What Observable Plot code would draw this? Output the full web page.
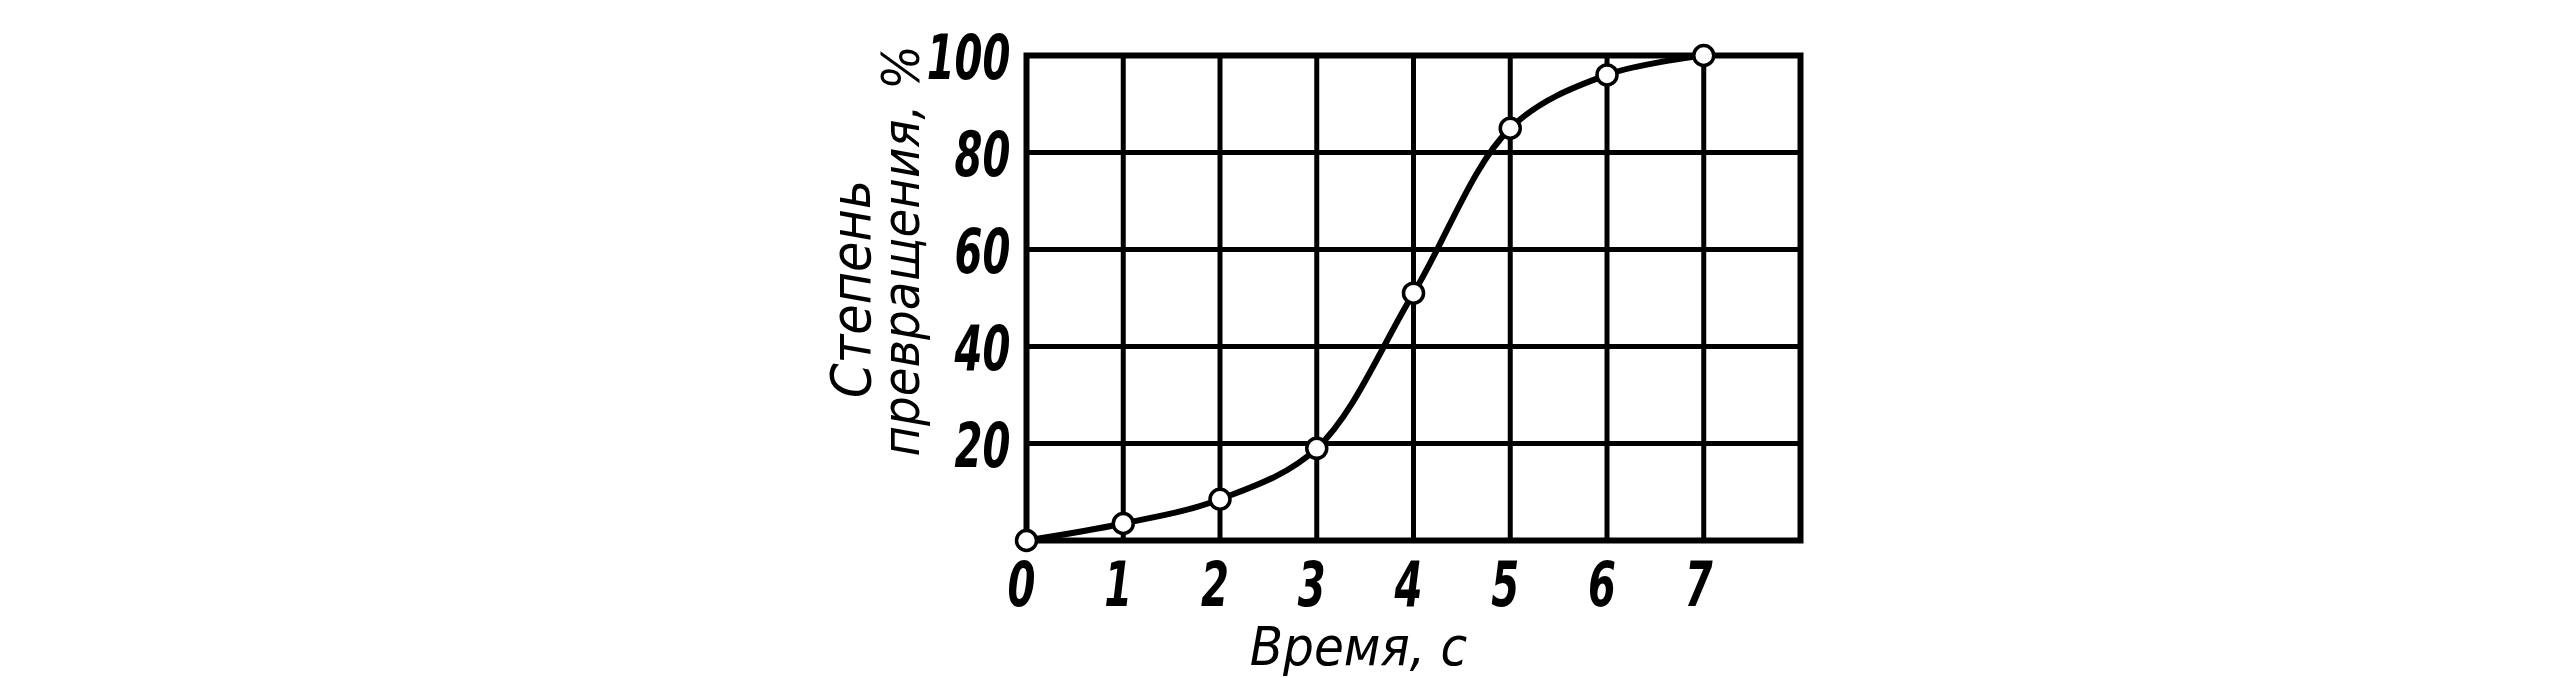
<!DOCTYPE html>
<html>
<head>
<meta charset="utf-8">
<script src="https://cdn.jsdelivr.net/npm/d3@7"></script>
<script src="https://cdn.jsdelivr.net/npm/@observablehq/plot@0.6"></script>
<style>
  html, body { margin: 0; padding: 0; background: #ffffff; }
  #chart svg { display: block; font-stretch: condensed; }
</style>
</head>
<body>
<div id="chart"></div>
<script>
// Data
const times = [0, 1, 2, 3, 4, 5, 6, 7];
const conversion = [0, 3.5, 8.5, 19, 51, 85, 96, 100];
const xTickValues = [0, 1, 2, 3, 4, 5, 6, 7];
const xTickLabels = ["0", "1", "2", "3", "4", "5", "6", "7"];
const yTickValues = [20, 40, 60, 80, 100];
const gridXValues = [1, 2, 3, 4, 5, 6, 7];
const gridYValues = [20, 40, 60, 80];
const xTitle = "Время, с";
const yTitleOuter = "Степень";
const yTitleInner = "превращения, %";

const points = times.map((t, i) => ({t, v: conversion[i]}));
const xTicks = xTickValues.map((v, i) => ({v, label: xTickLabels[i]}));

const font = {fontFamily: "'DejaVu Sans Condensed', 'DejaVu Sans', sans-serif", fontStyle: "italic", fill: "#000"};

const chart = Plot.plot({
  width: 2550,
  height: 678,
  marginLeft: 1026,
  marginRight: 750,
  marginTop: 55,
  marginBottom: 138,
  x: {domain: [0, 8], axis: null},
  y: {domain: [0, 100], axis: null},
  style: {background: "#ffffff"},
  marks: [
    Plot.ruleX(gridXValues, {x: d => d, stroke: "#000", strokeWidth: 5}),
    Plot.ruleY(gridYValues, {y: d => d, stroke: "#000", strokeWidth: 5}),
    Plot.frame({stroke: "#000", strokeWidth: 6}),
    Plot.line(points, {x: "t", y: "v", curve: "catmull-rom", stroke: "#000", strokeWidth: 6}),
    Plot.dot(points, {x: "t", y: "v", r: 10, fill: "#fff", stroke: "#000", strokeWidth: 3.5}),
    Plot.text(xTicks, {x: "v", text: "label", frameAnchor: "bottom", lineAnchor: "middle", dy: 46, dx: -5, fontSize: 62, fontWeight: "bold", ...font}),
    Plot.text(yTickValues, {y: d => d, text: d => String(d), frameAnchor: "left", textAnchor: "end", dx: -16, dy: 4, fontSize: 62, fontWeight: "bold", ...font}),
    Plot.text([xTitle], {text: d => d, frameAnchor: "bottom", textAnchor: "middle", lineAnchor: "middle", dx: -55, dy: 107, fontSize: 54, ...font}),
    Plot.text([yTitleOuter], {text: d => d, frameAnchor: "left", textAnchor: "middle", rotate: -90, lineAnchor: "middle", dx: -174, dy: -9, fontSize: 55, ...font}),
    Plot.text([yTitleInner], {text: d => d, frameAnchor: "left", textAnchor: "middle", rotate: -90, lineAnchor: "middle", dx: -124, dy: -47, fontSize: 52, ...font})
  ]
});
// narrow, tall hand-lettered digits: squeeze the bold tick labels horizontally about their anchor
d3.select(chart).selectAll("g[font-weight='bold'] text").each(function() {
  const t = this.getAttribute("transform");
  if (t) this.setAttribute("transform", t + " scale(0.72,1)");
});
document.getElementById("chart").appendChild(chart);
</script>
</body>
</html>
